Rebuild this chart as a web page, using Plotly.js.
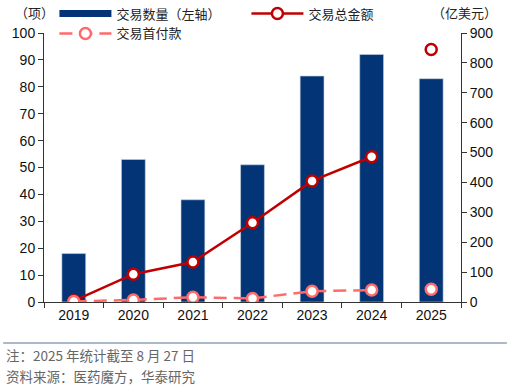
<!DOCTYPE html>
<html><head><meta charset="utf-8">
<script src="https://cdn.plot.ly/plotly-3.0.1.min.js"></script>
<style>html,body{margin:0;padding:0;background:#fff}#c{width:512px;height:386px}</style>
</head><body><div id="c"></div>
<script>
const years = ['2019','2020','2021','2022','2023','2024','2025'];
const dealCount = [18, 53, 38, 51, 84, 92, 83];
const totalYears = ['2019','2020','2021','2022','2023','2024'];
const totalValue = [4, 93, 134, 265, 405, 486];
const totalYear2025 = ['2025'];
const totalValue2025 = [845];
const upfrontYears = ['2019','2020','2021','2022','2023','2024'];
const upfrontValue = [2, 7, 16, 12, 36, 40];
const upfrontYear2025 = ['2025'];
const upfrontValue2025 = [43];
const leftTicks = [0,10,20,30,40,50,60,70,80,90,100];
const rightTicks = [0,100,200,300,400,500,600,700,800,900];

const navy = '#033476';
const red = '#C00000';
const pink = '#FF6B6B';
const cjk = '"Noto Sans CJK SC", "Liberation Sans", Arial, sans-serif';
const latin = '"Liberation Sans", Arial, sans-serif';

const traces = [
  {type:'bar', x:years, y:dealCount, marker:{color:navy, line:{color:'#c8d3e3', width:0.6}},
   width:0.4, showlegend:false, hoverinfo:'skip'},
  {type:'scatter', mode:'lines', x:[null], y:[null], name:'交易数量（左轴）',
   line:{color:navy, width:7}, showlegend:true},
  {type:'scatter', mode:'lines+markers', x:totalYears, y:totalValue, yaxis:'y2', name:'交易总金额',
   line:{color:red, width:2.5}, marker:{symbol:'circle', size:11, color:'#fff', line:{color:red, width:2.5}}},
  {type:'scatter', mode:'lines+markers', x:upfrontYears, y:upfrontValue, yaxis:'y2', name:'交易首付款',
   line:{color:pink, width:2.5, dash:'13px,7px'}, marker:{symbol:'circle', size:11, color:'#fff', line:{color:pink, width:2.5}}},
  {type:'scatter', mode:'markers', x:totalYear2025, y:totalValue2025, yaxis:'y2', showlegend:false,
   marker:{symbol:'circle', size:11, color:'#fff', line:{color:red, width:2.5}}},
  {type:'scatter', mode:'markers', x:upfrontYear2025, y:upfrontValue2025, yaxis:'y2', showlegend:false,
   marker:{symbol:'circle', size:11, color:'#fff', line:{color:pink, width:2.5}}}
];

const layout = {
  width:512, height:386,
  margin:{l:44, r:51, t:33, b:84, autoexpand:false},
  paper_bgcolor:'#fff', plot_bgcolor:'#fff',
  showlegend:true,
  legend:{orientation:'h', x:0.025, xanchor:'left', y:1.128, yanchor:'top',
    entrywidth:125, entrywidthmode:'pixels', traceorder:'normal', itemwidth:52,
    font:{family:cjk, size:13, color:'#222'}, bgcolor:'rgba(0,0,0,0)'},
  xaxis:{type:'category', categoryorder:'array', categoryarray:years, range:[-0.5,6.5],
    showline:true, linecolor:'#333', linewidth:1, ticks:'outside', tickson:'boundaries',
    ticklen:5, tickcolor:'#333', showgrid:false, zeroline:false,
    tickfont:{family:latin, size:14, color:'#111'}},
  yaxis:{range:[0,100], tickvals:leftTicks, showline:true, linecolor:'#333', linewidth:1,
    ticks:'outside', ticklen:5, tickcolor:'#333', showgrid:false, zeroline:false,
    tickfont:{family:latin, size:14, color:'#111'}},
  yaxis2:{range:[0,900], tickvals:rightTicks, overlaying:'y', side:'right', showline:true,
    linecolor:'#333', linewidth:1, ticks:'outside', ticklen:5, tickcolor:'#333',
    showgrid:false, zeroline:false, tickfont:{family:latin, size:14, color:'#111'}},
  annotations:[
    {text:'（项）', xref:'paper', yref:'paper', x:-0.075, y:1.078, xanchor:'left', yanchor:'middle',
     showarrow:false, font:{family:cjk, size:13, color:'#222'}},
    {text:'（亿美元）', xref:'paper', yref:'paper', x:1.09, y:1.078, xanchor:'right', yanchor:'middle',
     showarrow:false, font:{family:cjk, size:13, color:'#222'}},
    {text:'注：2025 年统计截至 8 月 27 日', xref:'paper', yref:'paper', x:-0.095, y:-0.197,
     xanchor:'left', yanchor:'middle', showarrow:false, font:{family:cjk, size:13.5, color:'#666'}},
    {text:'资料来源：医药魔方，华泰研究', xref:'paper', yref:'paper', x:-0.095, y:-0.275,
     xanchor:'left', yanchor:'middle', showarrow:false, font:{family:cjk, size:13.5, color:'#666'}}
  ],
  shapes:[
    {type:'line', xref:'paper', yref:'paper', x0:-0.098, x1:1.11, y0:-0.152, y1:-0.152,
     line:{color:'#a9bacd', width:2}}
  ]
};

Plotly.newPlot('c', traces, layout, {displayModeBar:false, staticPlot:true});
</script></body></html>
